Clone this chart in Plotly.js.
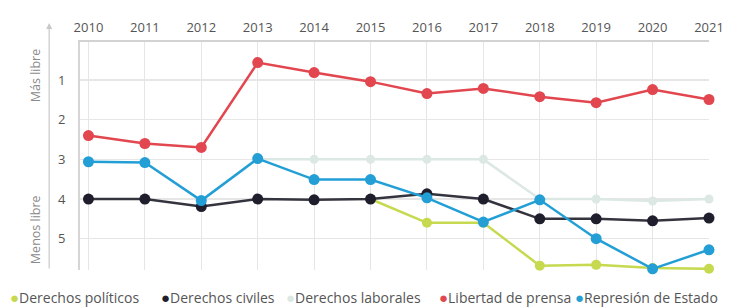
<!DOCTYPE html>
<html>
<head>
<meta charset="utf-8">
<script src="https://cdn.plot.ly/plotly-3.0.1.min.js"></script>
<style>html,body{margin:0;padding:0;background:#fff;}#chart{width:737px;height:307px;}</style>
</head>
<body>
<div id="chart"></div>
<script>
var years = [2010, 2011, 2012, 2013, 2014, 2015, 2016, 2017, 2018, 2019, 2020, 2021];
var yTicks = [1, 2, 3, 4, 5];

var derechosPoliticos = [null, null, null, null, null, 4, 4.6, 4.6, 5.68, 5.66, 5.74, 5.76];
var derechosCiviles   = [4, 4, 4.19, 4, 4.02, 4, 3.87, 4, 4.5, 4.5, 4.55, 4.48];
var derechosLaborales = [null, null, null, 3, 3, 3, 3, 3, 4, 4, 4.05, 4];
var libertadPrensa    = [2.4, 2.6, 2.7, 0.56, 0.81, 1.04, 1.34, 1.21, 1.42, 1.57, 1.24, 1.49];
var represionEstado   = [3.06, 3.08, 4.04, 2.98, 3.51, 3.51, 3.97, 4.58, 4.02, 5.0, 5.76, 5.28];

var names = ['Derechos políticos', 'Derechos civiles', 'Derechos laborales', 'Libertad de prensa', 'Represión de Estado'];
var colors = ['#c6d94f', '#1e1e2c', '#dce8e3', '#e2464f', '#239fd6'];
var values = [derechosPoliticos, derechosCiviles, derechosLaborales, libertadPrensa, represionEstado];

// drawing order (back to front) and styling
var drawOrder = [0, 2, 1, 3, 4];
var markerSizes = [10, 11, 9, 11, 11];
var lineColors = ['#c6d94f', '#34343f', '#dce8e3', '#e2464f', '#239fd6'];

// legend layout (left edge of each entry, in px)
var legendLeftPx = [8, 159, 284, 437, 573];
var plotLeft = 80, plotW = 629, plotBottom = 270, plotH = 228;

var traces = [];
drawOrder.forEach(function(i) {
  traces.push({
    x: years, y: values[i], type: 'scatter', mode: 'lines',
    line: {color: lineColors[i], width: 2.5},
    showlegend: false, hoverinfo: 'skip', cliponaxis: false
  });
  traces.push({
    x: years, y: values[i], type: 'scatter', mode: 'markers', name: names[i],
    marker: {color: colors[i], size: markerSizes[i]},
    showlegend: false, cliponaxis: false
  });
});

var annotations = [
  {xref: 'paper', yref: 'paper', x: -0.049, y: 1.083, text: '', showarrow: true,
   ax: 0, ay: 247, arrowhead: 2, arrowsize: 1, arrowwidth: 1.2, arrowcolor: '#c8c8c8'},
  {xref: 'paper', yref: 'paper', x: -0.0715, y: 0.85, xanchor: 'center', yanchor: 'middle',
   text: 'Más libre', showarrow: false, textangle: -90, font: {size: 12.5, color: '#8a8a8a'}},
  {xref: 'paper', yref: 'paper', x: -0.0715, y: 0.175, xanchor: 'center', yanchor: 'middle',
   text: 'Menos libre', showarrow: false, textangle: -90, font: {size: 12.5, color: '#8a8a8a'}}
];
names.forEach(function(n, i) {
  annotations.push({
    xref: 'paper', yref: 'paper',
    x: (legendLeftPx[i] - plotLeft) / plotW, y: (plotBottom - 297) / plotH,
    xanchor: 'left', yanchor: 'middle', showarrow: false,
    text: '<span style="color:' + colors[i] + ';font-size:15px">●</span>' + n,
    font: {size: 14, color: '#555'}
  });
});

var layout = {
  width: 737, height: 307,
  margin: {l: 80, r: 28, t: 42, b: 37, autoexpand: false},
  paper_bgcolor: '#ffffff', plot_bgcolor: '#ffffff',
  font: {family: 'Open Sans, sans-serif', color: '#555'},
  showlegend: false,
  xaxis: {
    side: 'top', range: [2009.85, 2021], tickvals: years, ticktext: years.map(String),
    showgrid: true, gridcolor: '#e6e6e6', gridwidth: 1,
    showline: true, linecolor: '#d2d2d2', linewidth: 2,
    zeroline: false, ticks: '', tickfont: {size: 13, color: '#555'},
    ticklabelstandoff: 3, fixedrange: true, automargin: false
  },
  yaxis: {
    range: [5.79, 0.04], tickvals: yTicks, ticktext: yTicks.map(String),
    showgrid: true, gridcolor: '#e6e6e6', gridwidth: 1.5,
    showline: true, linecolor: '#d5d5d5', linewidth: 2,
    zeroline: false, ticks: '', tickfont: {size: 13, color: '#555'},
    ticklabelstandoff: 10, fixedrange: true, automargin: false
  },
  annotations: annotations
};

Plotly.newPlot('chart', traces, layout, {displayModeBar: false, staticPlot: true});
</script>
</body>
</html>
